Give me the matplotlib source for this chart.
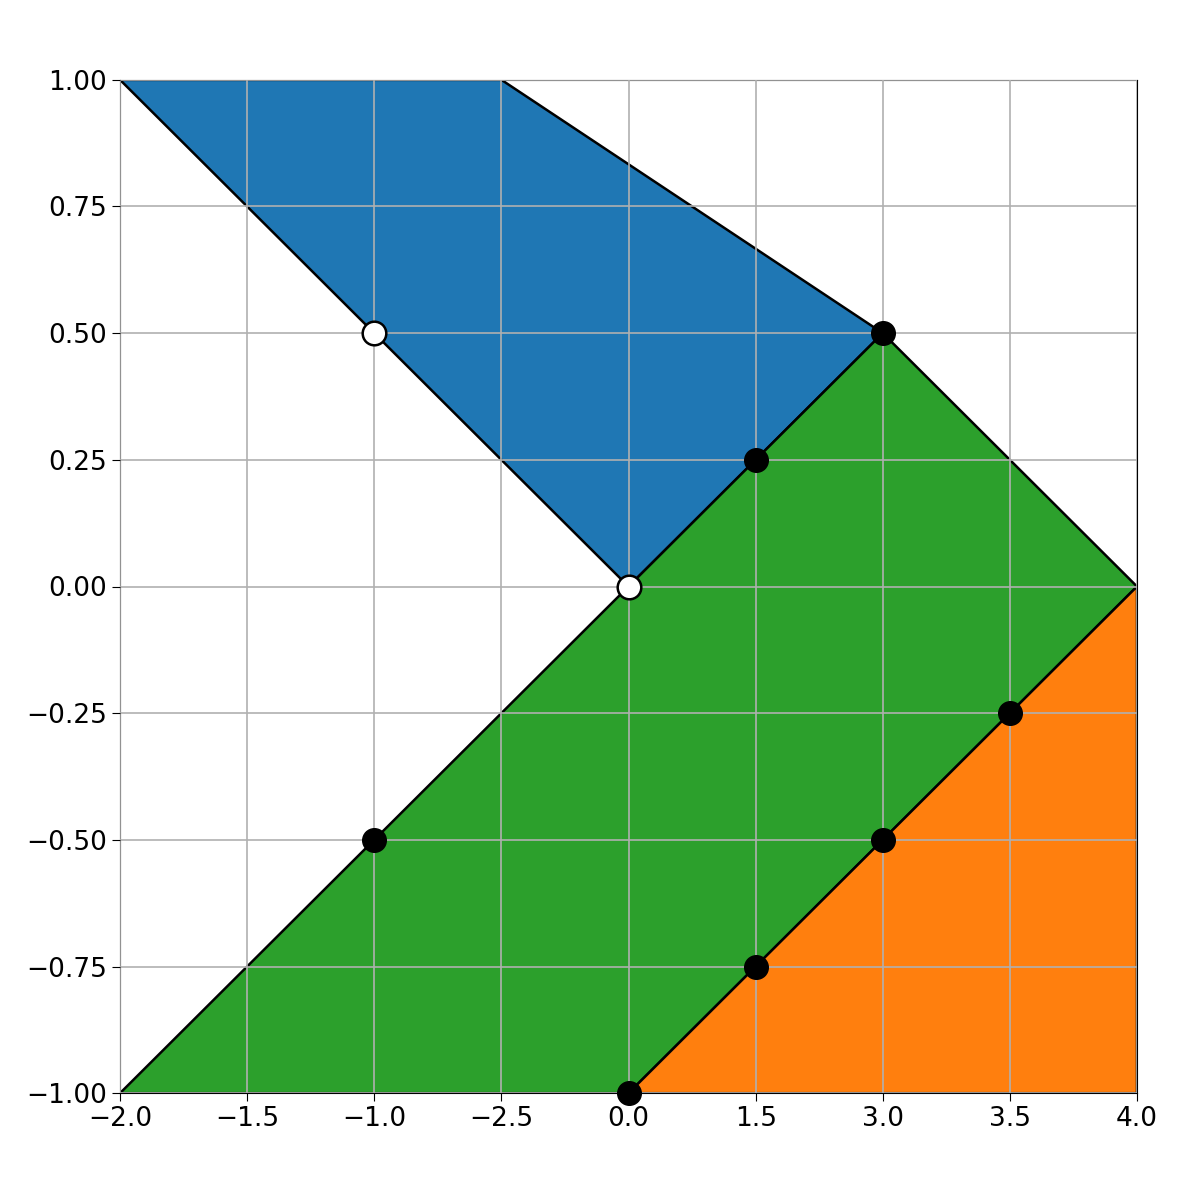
import matplotlib
matplotlib.use("Agg")
import matplotlib.pyplot as plt
from matplotlib.patches import Polygon
import numpy as np

x_ticks = [-2.0, -1.25, -0.5, 0.25, 1.0, 1.75, 2.5, 3.25, 4.0]
x_labels = ["\u22122.0", "\u22121.5", "\u22121.0", "\u22122.5", "0.0", "1.5", "3.0", "3.5", "4.0"]
y_ticks = [-1.0, -0.75, -0.5, -0.25, 0.0, 0.25, 0.5, 0.75, 1.0]

blue_poly = [(-2.0, 1.0), (0.25, 1.0), (2.5, 0.5), (1.0, 0.0)]
green_poly = [(-2.0, -1.0), (1.0, 0.0), (2.5, 0.5), (4.0, 0.0), (1.0, -1.0)]
orange_poly = [(1.0, -1.0), (4.0, 0.0), (4.0, -1.0)]
black_x = [2.5, 1.75, -0.5, 3.25, 2.5, 1.75, 1.0]
black_y = [0.5, 0.25, -0.5, -0.25, -0.5, -0.75, -1.0]
white_x = [-0.5, 1.0]
white_y = [0.5, 0.0]

fig = plt.figure(figsize=(12, 12), dpi=100)
ax = fig.add_axes([0.1, 0.089, 0.8475, 0.8445])
for pts, c in [(blue_poly, "#1f77b4"), (green_poly, "#2ca02c"), (orange_poly, "#ff7f0e")]:
    ax.add_patch(Polygon(pts, closed=True, facecolor=c, edgecolor="black", linewidth=1.8, zorder=1))
ax.set_xlim(-2, 4)
ax.set_ylim(-1, 1)
ax.set_xticks(x_ticks)
ax.set_xticklabels(x_labels)
ax.set_yticks(y_ticks)
ax.set_yticklabels([f"{v:.2f}".replace("-", "\u2212") for v in y_ticks])
ax.grid(True, color="#b0b0b0", linewidth=1.2, zorder=2)
ax.set_axisbelow(False)
ax.tick_params(labelsize=19, length=6)
ax.plot(black_x, black_y, "o", color="black", markersize=17, zorder=5, clip_on=False)
ax.plot(white_x, white_y, "o", markerfacecolor="white", markeredgecolor="black",
        markeredgewidth=1.8, markersize=17, zorder=5, clip_on=False)
fig.savefig("out.png", dpi=100)
